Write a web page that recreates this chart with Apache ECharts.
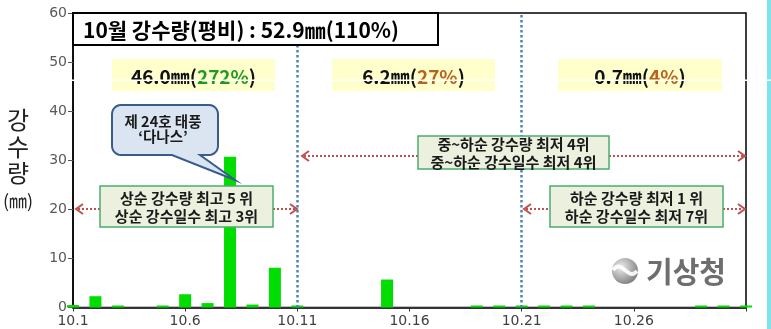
<!DOCTYPE html>
<html>
<head>
<meta charset="utf-8">
<script src="https://cdn.jsdelivr.net/npm/echarts@6/dist/echarts.min.js"></script>
<style>
  html, body { margin: 0; padding: 0; background: #fff; }
  #chart { width: 771px; height: 329px; }
</style>
</head>
<body>
<div id="chart"></div>
<script>
// Daily precipitation for October (mm); null = no rain, 0 = trace
const days = [1, 2, 3, 4, 5, 6, 7, 8, 9, 10, 11, 12, 13, 14, 15, 16, 17, 18, 19, 20,
              21, 22, 23, 24, 25, 26, 27, 28, 29, 30, 31];
const rain = [0.5, 2.3, 0.1, null, 0.1, 2.7, 0.9, 30.7, 0.6, 8.1,
              0.2, null, null, null, 5.7, null, null, null, 0.1, 0.2,
              0.1, 0.1, 0.1, 0.1, null, null, null, null, 0.3, 0.0, 0.0];
const dekadBounds = [11, 21];           // start days of the 2nd and 3rd dekads
const monthPrefix = '10.';
const yTicks = { min: 0, max: 60, step: 10 };

const KR = '"Noto Sans CJK KR", "Noto Sans", sans-serif';
const NUM = '"DejaVu Sans", sans-serif';

// x axis runs on (day - 1) so ticks start at 0 in steps of 5
const barData = days.map((d, i) => [d - 1, rain[i]]);

const chart = echarts.init(document.getElementById('chart'), null, { renderer: 'canvas' });

// rounded rectangle outline as a point list, with an optional tail on the bottom edge
function roundedPoints(x, y, w, h, r, tail) {
  const pts = [];
  const arc = (cx, cy, a0, a1) => {
    for (let k = 0; k <= 6; k++) {
      const a = a0 + (a1 - a0) * k / 6;
      pts.push([cx + r * Math.cos(a), cy + r * Math.sin(a)]);
    }
  };
  arc(x + r, y + r, Math.PI, Math.PI * 1.5);
  arc(x + w - r, y + r, -Math.PI / 2, 0);
  arc(x + w - r, y + h - r, 0, Math.PI / 2);
  if (tail) {
    pts.push([tail.right, y + h]);
    pts.push([tail.tipX, tail.tipY]);
    pts.push([tail.left, y + h]);
  }
  arc(x + r, y + h - r, Math.PI / 2, Math.PI);
  return pts;
}

function arrowPieces(y, xl, xr, boxL, boxR) {
  const red = '#c0504d';
  const els = [];
  const seg = (a, b) => els.push({
    type: 'line', z: 20,
    shape: { x1: a, y1: y, x2: b, y2: y },
    style: { stroke: red, lineWidth: 2, lineDash: [2, 2] }
  });
  seg(xl + 2, boxL);
  els.push({ type: 'polyline', z: 20,
    shape: { points: [[xl + 7, y - 5], [xl, y], [xl + 7, y + 5]] },
    style: { stroke: red, lineWidth: 2, fill: null } });
  seg(boxR, xr - 2);
  els.push({ type: 'polyline', z: 20,
    shape: { points: [[xr - 7, y - 5], [xr, y], [xr - 7, y + 5]] },
    style: { stroke: red, lineWidth: 2, fill: null } });
  return els;
}

function noteBox(x, y, w, h, lines) {
  return [
    { type: 'rect', z: 21, shape: { x: x, y: y, width: w, height: h },
      style: { fill: '#ebf1de', stroke: '#4bac6e', lineWidth: 1.5 } },
    { type: 'text', z: 22, x: x + w / 2, y: y + h / 2 + 1,
      style: { text: lines.join('\n'), font: 'bold 15px ' + KR, fill: '#1a1a1a',
               align: 'center', verticalAlign: 'middle', lineHeight: 18 } }
  ];
}

function summaryBox(x, w, amount, pct, pctColor) {
  return [
    { type: 'rect', z: 15, shape: { x: x, y: 59, width: w, height: 32 },
      style: { fill: '#ffffcc' } },
    { type: 'text', z: 16, x: x + w / 2, y: 77,
      style: {
        text: '{b|' + amount + '㎜(}{p|' + pct + '}{b|)}',
        align: 'center', verticalAlign: 'middle',
        rich: {
          b: { font: 'bold 19px ' + KR, fill: '#111' },
          p: { font: 'bold 19px ' + KR, fill: pctColor }
        }
      } }
  ];
}

const graphics = [].concat(
  // title box
  [
    { type: 'rect', z: 30, shape: { x: 73, y: 13, width: 365, height: 32 },
      style: { fill: '#fff', stroke: '#000', lineWidth: 2 } },
    { type: 'text', z: 31, x: 83, y: 30,
      style: { text: '10월 강수량(평비) : 52.9㎜(110%)', font: 'bold 21px ' + KR,
               fill: '#000', verticalAlign: 'middle' } }
  ],
  summaryBox(112, 163, '46.0', '272%', '#1e9b1e'),
  summaryBox(332, 163, '6.2', '27%', '#b8621b'),
  summaryBox(558, 164, '0.7', '4%', '#b8621b'),
  // typhoon callout
  [
    { type: 'polygon', z: 25,
      shape: { points: roundedPoints(112, 105, 106, 50, 9, { right: 200, left: 172, tipX: 235, tipY: 180 }) },
      style: { fill: '#dbe5f1', stroke: '#385d8a', lineWidth: 2 } },
    { type: 'text', z: 26, x: 163, y: 129,
      style: { text: '제 24호 태풍\n‘다나스’', font: 'bold 14.5px ' + KR, fill: '#1a1a1a',
               align: 'center', verticalAlign: 'middle', lineHeight: 15 } }
  ],
  arrowPieces(209, 76, 297, 100, 273),
  noteBox(100, 186, 173, 41, ['상순 강수량 최고 5 위', '상순 강수일수 최고 3위']),
  arrowPieces(156, 302, 745, 418, 609),
  noteBox(418, 136, 191, 33, ['중~하순 강수량 최저 4위', '중~하순 강수일수 최저 4위']),
  arrowPieces(209, 524, 745, 550, 723),
  noteBox(550, 186, 173, 41, ['하순 강수량 최저 1 위', '하순 강수일수 최저 7위']),
  // y axis name, stacked vertically
  [
    { type: 'text', x: 18, y: 120, style: { text: '강', font: '24px ' + KR, fill: '#222', align: 'center', verticalAlign: 'middle' } },
    { type: 'text', x: 18, y: 147, style: { text: '수', font: '24px ' + KR, fill: '#222', align: 'center', verticalAlign: 'middle' } },
    { type: 'text', x: 18, y: 173, style: { text: '량', font: '24px ' + KR, fill: '#222', align: 'center', verticalAlign: 'middle' } },
    { type: 'text', x: 18, y: 201, style: { text: '(㎜)', font: '18px ' + KR, fill: '#222', align: 'center', verticalAlign: 'middle' } }
  ],
  // agency logo
  [
    { type: 'circle', z: 10, shape: { cx: 625, cy: 271, r: 13 },
      style: { fill: { type: 'radial', x: 0.35, y: 0.35, r: 0.9, colorStops: [
        { offset: 0, color: '#ececec' }, { offset: 0.6, color: '#9a9a9a' }, { offset: 1, color: '#5e5e5e' }] } } },
    { type: 'bezierCurve', z: 11,
      shape: { x1: 613, y1: 270, cpx1: 622, cpy1: 258, cpx2: 628, cpy2: 282, x2: 637, y2: 271 },
      style: { stroke: '#ffffff', lineWidth: 4, fill: null, opacity: 0.9 } },
    { type: 'text', z: 11, x: 646, y: 272,
      style: { text: '기상청', font: 'bold 29px ' + KR, fill: '#6e6e6e', verticalAlign: 'middle' } }
  ],
  // right edge strip and thin white scan line
  [
    { type: 'rect', z: 50, shape: { x: 767, y: 0, width: 4, height: 329 }, style: { fill: '#7fe3ec' } },
    { type: 'rect', z: 60, shape: { x: 0, y: 79.5, width: 771, height: 1.5 }, style: { fill: '#ffffff' } }
  ]
);

chart.setOption({
  animation: false,
  grid: { left: 73, right: 25, top: 13, bottom: 21.5, show: true,
          borderColor: '#000', borderWidth: 1.5, backgroundColor: 'transparent' },
  xAxis: {
    type: 'value', min: 0, max: days.length - 1, interval: 5,
    axisLine: { show: true, lineStyle: { color: '#333', width: 2 } },
    axisTick: { show: true, length: 4, lineStyle: { color: '#333' } },
    axisLabel: { color: '#404040', fontSize: 14, fontFamily: NUM, margin: 7,
                 formatter: v => (v >= days.length - 1 ? '' : monthPrefix + days[v]) },
    splitLine: { show: false }
  },
  yAxis: {
    type: 'value', min: yTicks.min, max: yTicks.max, interval: yTicks.step,
    axisLine: { show: true, lineStyle: { color: '#000', width: 1.5 } },
    axisTick: { show: true, length: 5, lineStyle: { color: '#555' } },
    axisLabel: { color: '#595959', fontSize: 14, fontFamily: NUM, margin: 6 },
    splitLine: { show: false }
  },
  series: [{
    type: 'bar',
    data: barData,
    barWidth: 12,
    barMinHeight: 2,
    itemStyle: { color: '#00dd00' },
    clip: true,
    markLine: {
      silent: true, symbol: 'none', label: { show: false },
      lineStyle: { color: '#4f81bd', type: 'dotted', width: 2.5 },
      data: dekadBounds.map(d => ({ xAxis: d - 1 }))
    }
  }],
  graphic: graphics
});
</script>
</body>
</html>
